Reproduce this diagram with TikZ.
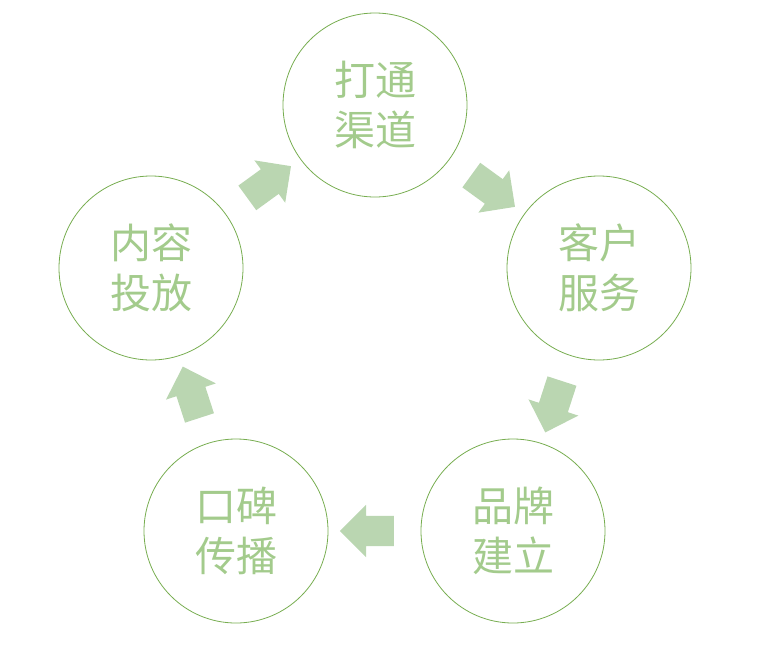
\documentclass[tikz,border=0pt]{standalone}
\usepackage{fontspec}
\newfontfamily\cjk{Noto Sans CJK SC}
\usetikzlibrary{shapes.arrows,calc}
\definecolor{ringline}{HTML}{77AD50}
\definecolor{ringtext}{HTML}{A3CB8C}
\definecolor{arrowfill}{HTML}{BAD6B1}
\tikzset{
  ring/.style={circle, draw=ringline, line width=0.8pt, minimum size=184pt,
    inner sep=0pt, text=ringtext, font=\cjk\fontsize{41}{50}\selectfont, align=center},
  flow/.style={single arrow, fill=arrowfill, draw=none, minimum height=54pt,
    inner sep=15pt, single arrow head extend=11pt},
}
\begin{document}
\begin{tikzpicture}[x=1pt, y=1pt]
  \useasboundingbox (0,0) rectangle (758,-646);

  \node[ring] (qudao) at (375,-105) {打通\\渠道};
  \node[ring] (kehu) at (599,-268) {客户\\服务};
  \node[ring] (pinpai) at (513,-531) {品牌\\建立};
  \node[ring] (koubei) at (236,-531) {口碑\\传播};
  \node[ring] (neirong) at (151,-268) {内容\\投放};

  \node[flow, rotate=-36] (a1) at ($(qudao)!0.5!(kehu)$) {};
  \node[flow, rotate=-108] (a2) at ($(kehu)!0.5!(pinpai)$) {};
  \node[flow, rotate=180] (a3) at ($(pinpai)!0.5!(koubei)$) {};
  \node[flow, rotate=108] (a4) at ($(koubei)!0.5!(neirong)$) {};
  \node[flow, rotate=36] (a5) at ($(neirong)!0.5!(qudao)$) {};

\end{tikzpicture}
\end{document}
